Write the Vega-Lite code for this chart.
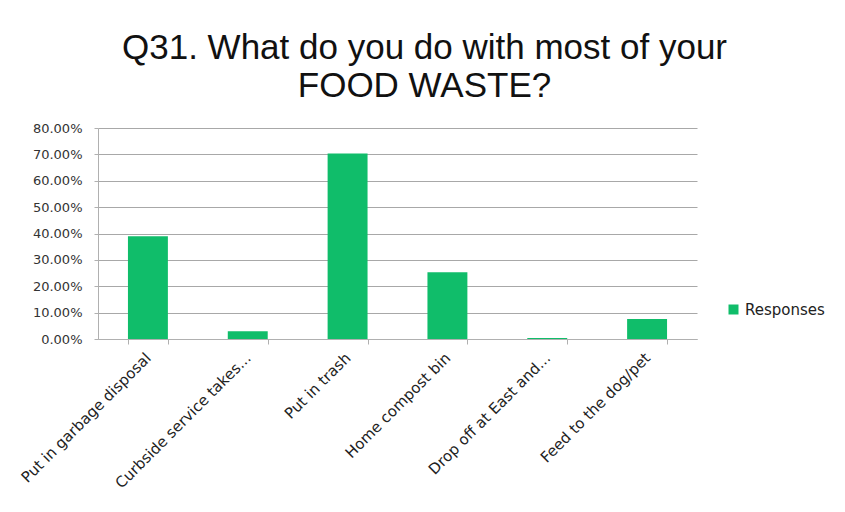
{
  "$schema": "https://vega.github.io/schema/vega-lite/v6.json",
  "autosize": {"type": "none"},
  "padding": {"left": 98, "top": 128, "right": 148, "bottom": 173},
  "width": 599,
  "height": 211,
  "background": "white",
  "title": {
    "text": ["Q31. What do you do with most of your", "FOOD WASTE?"],
    "font": "Liberation Sans",
    "fontSize": 35,
    "fontWeight": "normal",
    "color": "#111111",
    "anchor": "middle",
    "dx": 27,
    "offset": 18,
    "lineHeight": 38
  },
  "data": {
    "values": [
      {"option": "Put in garbage disposal", "pct": 0.39, "series": "Responses"},
      {"option": "Curbside service takes...", "pct": 0.029, "series": "Responses"},
      {"option": "Put in trash", "pct": 0.703, "series": "Responses"},
      {"option": "Home compost bin", "pct": 0.253, "series": "Responses"},
      {"option": "Drop off at East and...", "pct": 0.004, "series": "Responses"},
      {"option": "Feed to the dog/pet", "pct": 0.076, "series": "Responses"}
    ]
  },
  "mark": {"type": "bar"},
  "encoding": {
    "x": {
      "field": "option",
      "type": "nominal",
      "sort": null,
      "title": null,
      "scale": {"paddingInner": 0.6, "paddingOuter": 0.3},
      "axis": {
        "labelAngle": -45,
        "labelAlign": "right",
        "labelBaseline": "middle",
        "labelFont": "DejaVu Sans",
        "labelFontSize": 15,
        "labelColor": "#222222",
        "labelPadding": 11,
        "tickBand": "extent",
        "tickSize": 5,
        "tickColor": "#b0b0b0",
        "domainColor": "#b0b0b0",
        "labelLimit": 300
      }
    },
    "y": {
      "field": "pct",
      "type": "quantitative",
      "title": null,
      "scale": {"domain": [0, 0.8], "nice": false},
      "axis": {
        "format": ".2%",
        "values": [0, 0.1, 0.2, 0.3, 0.4, 0.5, 0.6, 0.7, 0.8],
        "labelFont": "DejaVu Sans",
        "labelFontSize": 13,
        "labelColor": "#333333",
        "labelPadding": 12,
        "tickSize": 4,
        "tickColor": "#b0b0b0",
        "domainColor": "#b0b0b0",
        "grid": true,
        "gridColor": "#a8a8a8",
        "gridWidth": 1
      }
    },
    "color": {
      "field": "series",
      "type": "nominal",
      "scale": {"range": ["#10bd6a"]},
      "legend": {
        "title": null,
        "orient": "none",
        "legendX": 628,
        "legendY": 174,
        "symbolType": "square",
        "symbolSize": 100,
        "labelFont": "DejaVu Sans",
        "labelFontSize": 15,
        "labelColor": "#222222"
      }
    }
  },
  "config": {"view": {"stroke": null}}
}
